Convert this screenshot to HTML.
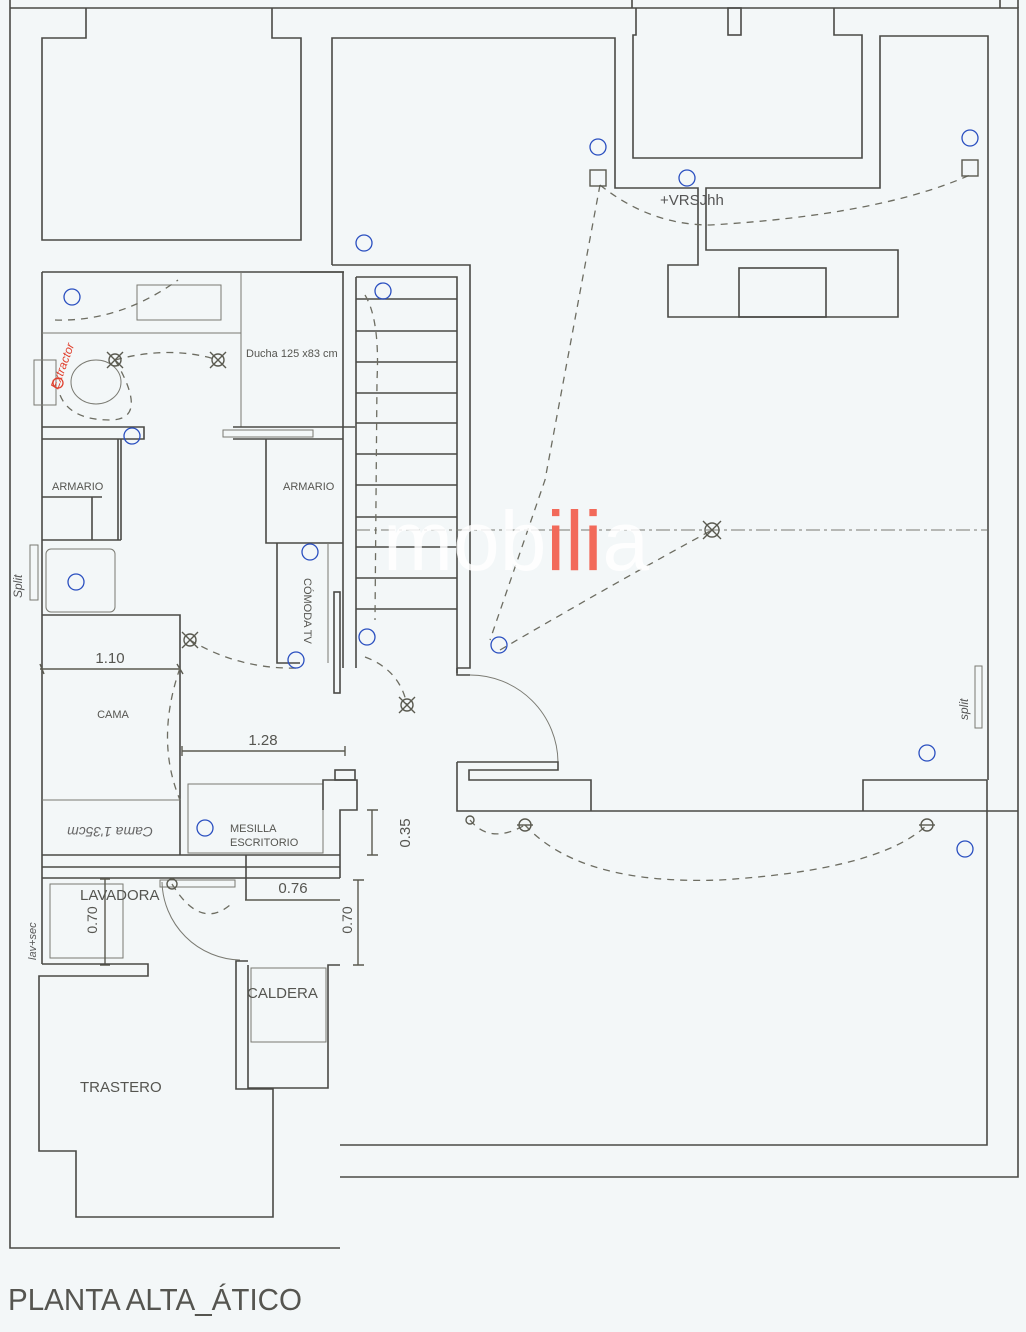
<!DOCTYPE html>
<html><head><meta charset="utf-8"><style>
html,body{margin:0;padding:0;background:#f3f7f8;}
svg{display:block;}
.w{fill:none;stroke:#4a4a46;stroke-width:1.6;}
.t{fill:none;stroke:#7a7a72;stroke-width:1;}
.d{fill:none;stroke:#6d6d62;stroke-width:1.3;stroke-dasharray:7 6;}
.h{fill:none;stroke:#5a5a50;stroke-width:1.4;}
.b{fill:none;stroke:#2a4fc0;stroke-width:1.3;}
.lbl{font-family:"Liberation Sans",sans-serif;fill:#555550;}
</style></head><body>
<svg width="1026" height="1332" viewBox="0 0 1026 1332" xmlns="http://www.w3.org/2000/svg">
<rect width="1026" height="1332" fill="#f3f7f8"/>
<!-- outer -->
<path class="w" d="M10,0 V1248 H340"/>
<path class="w" d="M10,8 H1018 V1177 H340"/>
<path class="w" d="M1018,0 V8"/>
<path class="w" d="M340,1145 H987 V780"/>
<path class="w" d="M632,0 V8 M1000,0 V8"/>
<!-- top-left block -->
<path class="w" d="M86,8 V38 H42 V240 H301 V38 H272 V8"/>
<!-- room A -->
<path class="w" d="M332,265 V38 H615 V188 H698 V265 H668 V317 H898 V250 H706 V188 H880 V36 H988 V780"/>
<rect class="w" x="739" y="268" width="87" height="49"/>
<!-- top mid block -->
<path class="w" d="M636,8 V35 H633 V158 H862 V35 H834 V8"/>
<rect class="w" x="728" y="8" width="13" height="27"/>
<!-- stair surround -->
<path class="w" d="M332,265 H470 V668 H457"/>
<path class="w" d="M300,272 H343 V668"/>
<path class="w" d="M356,277 H457 V673 M356,277 V668"/>
<path class="w" d="M356,299 H457 M356,331 H457 M356,362 H457 M356,393 H457 M356,423 H457 M356,454 H457 M356,485 H457 M356,517 H457 M356,547 H457 M356,578 H457 M356,609 H457"/>
<!-- stair door right -->
<path class="w" d="M457,668 V675 H470"/>
<path class="t" d="M470,675 A88,88 0 0 1 558,762"/>
<path class="w" d="M457,762 H558 V770 H469 V780 H591 V811 M457,762 V811 H1018"/>
<path class="w" d="M863,811 V780 H987"/>
<rect class="t" x="975" y="666" width="7" height="62"/>
<!-- dashed axis -->
<path class="t" d="M356,530 H987" stroke-dasharray="14 4 3 4"/>
<!-- left bathroom -->
<path class="w" d="M42,272 H344 M42,272 V964"/>
<path class="t" d="M42,333 H241 M241,272 V427"/>
<rect class="t" x="137" y="285" width="84" height="35"/>
<rect class="t" x="34" y="360" width="22" height="45"/>
<ellipse class="t" cx="96" cy="382" rx="25" ry="22"/>
<path class="w" d="M42,427 H144 V439 H42 M118,439 V540 M42,540 H121 M121,439 V540"/>
<path class="w" d="M42,497 H102 M92,497 V540"/>
<path class="w" d="M233,427 H355 M233,439 H343"/>
<rect class="t" x="223" y="430" width="90" height="7"/>
<path class="w" d="M266,439 V543 H343 M277,543 V663 H300"/>
<path class="t" d="M328,543 V663"/>
<rect class="t" x="46" y="549" width="69" height="63" rx="5"/>
<rect class="t" x="30" y="545" width="8" height="55"/>
<rect class="w" x="334" y="592" width="6" height="101"/>
<!-- cama -->
<path class="w" d="M42,615 H180 V855"/>
<path class="t" d="M42,800 H180"/>
<path class="h" d="M40,669 H181 M40,664 L44,674 M177,664 L183,674"/>
<text class="lbl" x="110" y="663" font-size="15" text-anchor="middle">1.10</text>
<text class="lbl" x="113" y="718" font-size="11" text-anchor="middle">CAMA</text>
<text x="110" y="835" font-size="14" fill="#666" font-family="Liberation Sans,sans-serif" text-anchor="middle" transform="rotate(180 110 831)" font-style="italic">Cama 1'35cm</text>
<!-- mesilla -->
<path class="h" d="M182,751 H345 M182,746 V756 M345,746 V756"/>
<text class="lbl" x="263" y="745" font-size="15" text-anchor="middle">1.28</text>
<rect class="t" x="188" y="784" width="135" height="69"/>
<text class="lbl" x="230" y="832" font-size="11">MESILLA</text>
<text class="lbl" x="230" y="846" font-size="11">ESCRITORIO</text>
<path class="w" d="M323,810 V780 H357 V810 H340 V878"/>
<rect class="w" x="335" y="770" width="20" height="10"/>
<path class="w" d="M246,855 H340 M42,855 H246"/>
<path class="h" d="M372,810 V855 M367,810 H378 M367,855 H378"/>
<text class="lbl" x="410" y="833" font-size="15" text-anchor="middle" transform="rotate(-90 410 833)">0.35</text>
<!-- corridor lines -->
<path class="w" d="M42,867 H340 M42,878 H340"/>
<rect class="t" x="160" y="880" width="75" height="7"/>
<path class="w" d="M246,855 V900"/>
<path class="h" d="M245,900 H340"/>
<text class="lbl" x="293" y="893" font-size="15" text-anchor="middle">0.76</text>
<!-- lavadora -->
<rect class="t" x="50" y="884" width="73" height="74"/>
<text class="lbl" x="80" y="900" font-size="15">LAVADORA</text>
<path class="h" d="M105,879 V965 M100,879 H110 M100,965 H110"/>
<text class="lbl" x="97" y="920" font-size="14" text-anchor="middle" transform="rotate(-90 97 920)">0.70</text>
<path class="h" d="M358,880 V965 M353,880 H364 M353,965 H364"/>
<text class="lbl" x="352" y="920" font-size="14" text-anchor="middle" transform="rotate(-90 352 920)">0.70</text>
<path class="t" d="M162,882 A80,80 0 0 0 240,960"/>
<path class="w" d="M42,964 H148 V976 H39 V1151 H76 V1217 H273 V1089 H236 V961 H248 M248,965 V1088 H328 V965 H340"/>
<rect class="t" x="251" y="968" width="75" height="74"/>
<text class="lbl" x="247" y="998" font-size="15">CALDERA</text>
<text class="lbl" x="80" y="1092" font-size="15">TRASTERO</text>
<!-- labels -->
<text class="lbl" x="246" y="357" font-size="11">Ducha 125 x83 cm</text>
<text class="lbl" x="52" y="490" font-size="11">ARMARIO</text>
<text class="lbl" x="283" y="490" font-size="11">ARMARIO</text>
<text class="lbl" x="304" y="578" font-size="11" transform="rotate(90 304 578)">CÓMODA TV</text>
<!-- handwritten dashed circuits -->
<path class="d" d="M600,185 Q650,225 710,225 Q880,215 970,175"/>
<path class="d" d="M600,185 L545,480 L490,640"/>
<path class="d" d="M500,650 Q620,580 712,530"/>
<path class="d" d="M115,360 Q170,345 218,360"/>
<path class="d" d="M115,360 Q150,420 110,420 Q70,420 60,395"/>
<path class="d" d="M55,320 Q120,322 178,280"/>
<path class="d" d="M190,640 Q240,670 300,668"/>
<path class="d" d="M180,668 Q155,740 180,800"/>
<path class="d" d="M365,295 Q380,320 377,380 L375,620"/>
<path class="d" d="M365,657 Q400,670 407,705"/>
<path class="d" d="M470,820 Q490,845 525,825"/>
<path class="d" d="M525,825 Q580,885 720,880 Q880,870 927,825"/>
<path class="d" d="M172,884 Q200,930 230,905"/>
<!-- fixture marks -->
<g class="h">
<circle cx="115" cy="360" r="6"/><path d="M107,352 L123,368 M123,352 L107,368"/>
<circle cx="218" cy="360" r="6"/><path d="M210,352 L226,368 M226,352 L210,368"/>
<circle cx="190" cy="640" r="6"/><path d="M182,632 L198,648 M198,632 L182,648"/>
<circle cx="407" cy="705" r="6"/><path d="M399,697 L415,713 M415,697 L399,713"/>
<circle cx="712" cy="530" r="7"/><path d="M703,521 L721,539 M721,521 L703,539"/>
<circle cx="525" cy="825" r="6"/><path d="M517,825 H533"/>
<circle cx="927" cy="825" r="6"/><path d="M919,825 H935"/>
<circle cx="172" cy="884" r="5"/>
<rect x="590" y="170" width="16" height="16"/>
<rect x="962" y="160" width="16" height="16"/>
<circle cx="470" cy="820" r="4"/>
</g>
<text x="660" y="205" font-size="15" fill="#555" font-family="Liberation Sans,sans-serif">+VRSJhh</text>
<text x="22" y="598" font-size="12" fill="#555" font-family="Liberation Sans,sans-serif" font-style="italic" transform="rotate(-90 22 598)">Split</text>
<text x="968" y="720" font-size="12" fill="#555" font-family="Liberation Sans,sans-serif" font-style="italic" transform="rotate(-90 968 720)">split</text>
<text x="36" y="960" font-size="11" fill="#555" font-family="Liberation Sans,sans-serif" font-style="italic" transform="rotate(-90 36 960)">lav+sec</text>
<text x="58" y="390" font-size="12" fill="#e0402e" font-family="Liberation Sans,sans-serif" font-style="italic" transform="rotate(-70 58 390)">Extractor</text>
<circle cx="58" cy="383" r="5" fill="none" stroke="#e0402e" stroke-width="1.3"/>
<!-- blue circles -->
<g class="b">
<circle cx="72" cy="297" r="8"/><circle cx="132" cy="436" r="8"/><circle cx="76" cy="582" r="8"/>
<circle cx="310" cy="552" r="8"/><circle cx="296" cy="660" r="8"/><circle cx="367" cy="637" r="8"/>
<circle cx="383" cy="291" r="8"/><circle cx="364" cy="243" r="8"/><circle cx="598" cy="147" r="8"/>
<circle cx="687" cy="178" r="8"/><circle cx="970" cy="138" r="8"/><circle cx="499" cy="645" r="8"/>
<circle cx="927" cy="753" r="8"/><circle cx="965" cy="849" r="8"/><circle cx="205" cy="828" r="8"/>
</g>
<!-- watermark -->
<text x="383" y="570" font-size="84" font-family="Liberation Sans,sans-serif" fill="#ffffff" fill-opacity="0.85">mob<tspan fill="#f26a5a" fill-opacity="1">ili</tspan>a</text>
<!-- title -->
<text x="8" y="1310" font-size="31" font-family="Liberation Sans,sans-serif" fill="#555550" textLength="294" lengthAdjust="spacingAndGlyphs">PLANTA ALTA_ÁTICO</text>
</svg>
</body></html>
